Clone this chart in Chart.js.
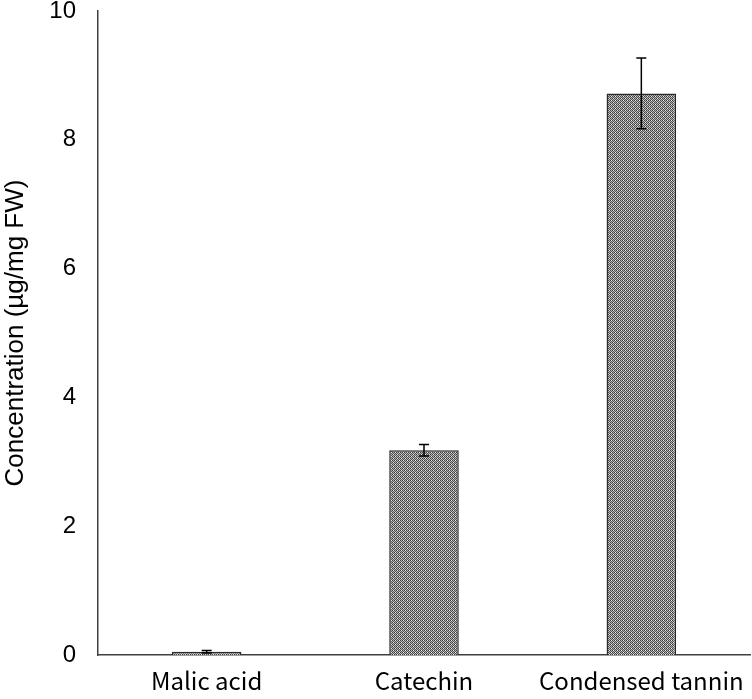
<!DOCTYPE html>
<html>
<head>
<meta charset="utf-8">
<script src="https://cdn.jsdelivr.net/npm/chart.js@4"></script>
<style>
	html, body { margin: 0; padding: 0; background: #fff; }
	#wrap { width: 752px; height: 699px; }
</style>
</head>
<body>
<div id="wrap"><canvas id="c" width="752" height="699"></canvas></div>
<script>
var categories = ['Malic acid', 'Catechin', 'Condensed tannin'];
var concentration = [0.05, 3.18, 8.72];
var errors = [0.02, 0.09, 0.55];
var yTicks = [0, 2, 4, 6, 8, 10];

// small grey checker tile, like the hatch fill of the original
function makePattern() {
	var t = document.createElement('canvas');
	t.width = 4; t.height = 4;
	var g = t.getContext('2d');
	var cols = [
		['#3c3c3c', '#b4b4b4', '#3c3c3c', '#e8e8e8'],
		['#b4b4b4', '#5a5a5a', '#b4b4b4', '#5a5a5a'],
		['#3c3c3c', '#e8e8e8', '#3c3c3c', '#b4b4b4'],
		['#b4b4b4', '#5a5a5a', '#b4b4b4', '#5a5a5a']
	];
	for (var y = 0; y < 4; y++) {
		for (var x = 0; x < 4; x++) {
			g.fillStyle = cols[y][x];
			g.fillRect(x, y, 1, 1);
		}
	}
	return document.getElementById('c').getContext('2d').createPattern(t, 'repeat');
}

var errorBars = {
	id: 'errorBars',
	afterDatasetsDraw: function(chart) {
		var ctx = chart.ctx;
		var meta = chart.getDatasetMeta(0);
		var ys = chart.scales.y;
		ctx.save();
		ctx.strokeStyle = '#000';
		ctx.lineWidth = 1.5;
		meta.data.forEach(function(bar, i) {
			var v = concentration[i], e = errors[i];
			var top = ys.getPixelForValue(v + e);
			var bot = ys.getPixelForValue(v - e);
			var x = bar.x;
			ctx.beginPath();
			ctx.moveTo(x, top); ctx.lineTo(x, bot);
			ctx.moveTo(x - 5, top); ctx.lineTo(x + 5, top);
			ctx.moveTo(x - 5, bot); ctx.lineTo(x + 5, bot);
			ctx.stroke();
		});
		ctx.restore();
	}
};

new Chart(document.getElementById('c'), {
	type: 'bar',
	data: {
		labels: categories,
		datasets: [{
			data: concentration,
			backgroundColor: makePattern(),
			borderColor: '#2a2a2a',
			borderWidth: 1.5,
			categoryPercentage: 1,
			barPercentage: 0.32
		}]
	},
	options: {
		responsive: false,
		animation: false,
		layout: { padding: { top: 11, right: 2, left: 0, bottom: 0 } },
		plugins: { legend: { display: false }, tooltip: { enabled: false } },
		scales: {
			x: {
				grid: { display: false, drawTicks: false },
				border: { color: '#404040', width: 1.5 },
				ticks: { color: '#000', padding: 11, font: { family: '"Noto Sans CJK JP", "Liberation Sans", sans-serif', size: 24 } },
				afterFit: function(s) { s.height = 44; s.paddingLeft = 0; s.paddingRight = 0; }
			},
			y: {
				min: 0, max: 10,
				afterBuildTicks: function(s) { s.ticks = yTicks.map(function(v) { return { value: v }; }); },
				grid: { display: false, drawTicks: false },
				border: { color: '#404040', width: 1.5 },
				ticks: { color: '#000', padding: 22, font: { family: '"Liberation Sans", Arial, sans-serif', size: 24 } },
				title: {
					display: true,
					text: 'Concentration (µg/mg FW)',
					color: '#000',
					padding: 0,
					font: { family: '"Liberation Sans", Arial, sans-serif', size: 26 }
				},
				afterFit: function(s) { s.width = 98; s.paddingTop = 0; s.paddingBottom = 0; }
			}
		}
	},
	plugins: [errorBars]
});
</script>
</body>
</html>
